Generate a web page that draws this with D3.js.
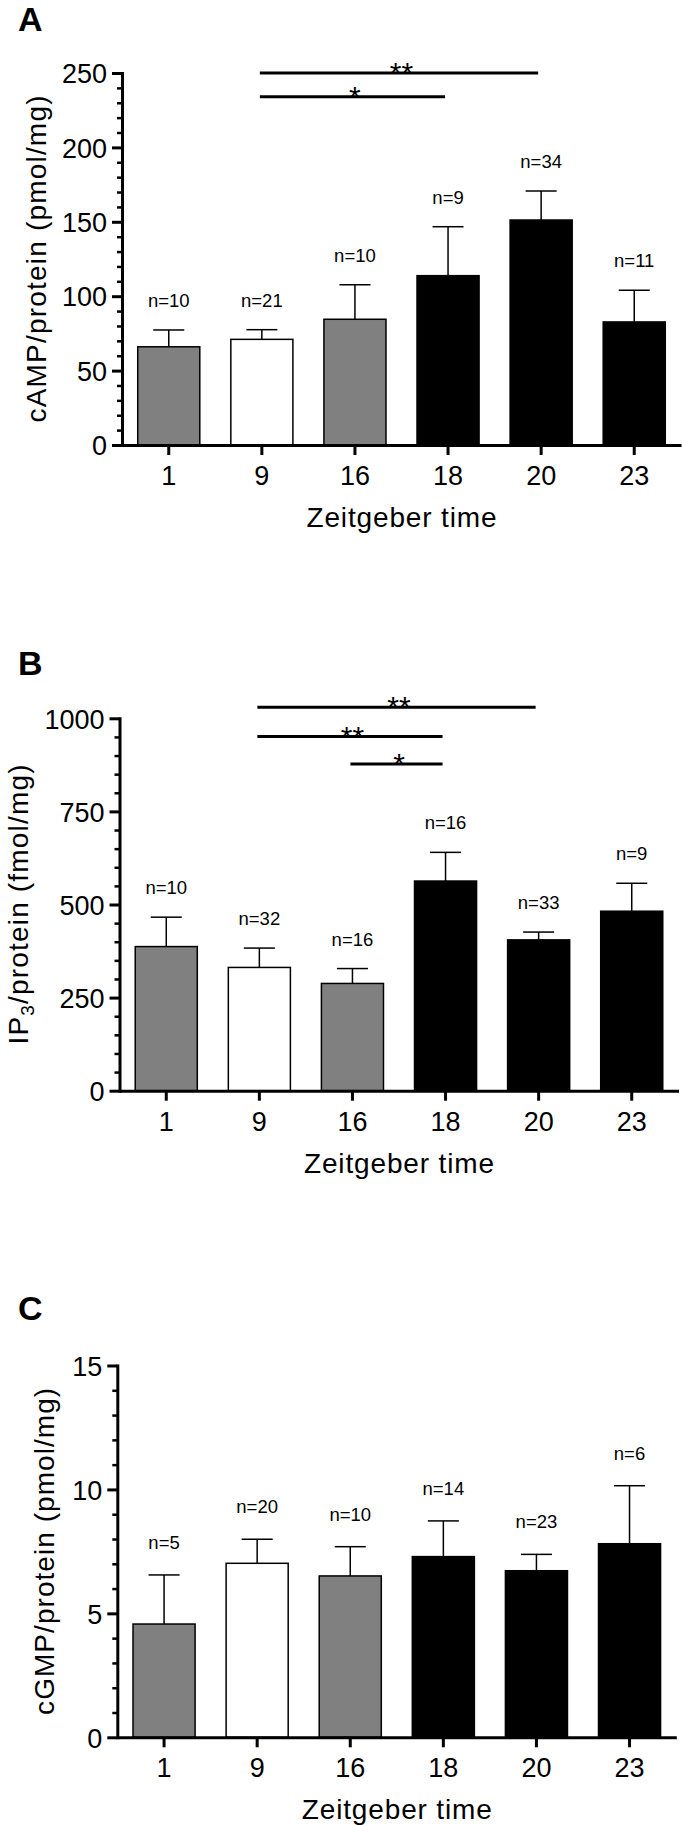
<!DOCTYPE html>
<html>
<head>
<meta charset="utf-8">
<script src="https://cdn.jsdelivr.net/npm/d3@7/dist/d3.min.js"></script>
<style>
  html, body { margin: 0; padding: 0; background: #fff; }
  svg { display: block; }
  text { font-family: "Liberation Sans", Arial, Helvetica, sans-serif; fill: #000; }
</style>
</head>
<body>
<svg id="chart" width="682" height="1825"></svg>
<script>
// ---------------- DATA ----------------
const categories = ["1", "9", "16", "18", "20", "23"];           // Zeitgeber time
const phase      = ["transition", "light", "transition", "dark", "dark", "dark"];

// Panel A: cAMP/protein (pmol/mg)
const campMean = [66, 71, 84.5, 113.8, 151.2, 82.7];
const campSem  = [11.3, 6.5, 23.2, 32.9, 19.5, 21.3];
const campN    = [10, 21, 10, 9, 34, 11];
const campTicks = [0, 50, 100, 150, 200, 250];
const campSig  = [
  { from: "9", to: "20", label: "**", level: 250 },
  { from: "9", to: "18", label: "*",  level: 234 }
];

// Panel B: IP3/protein (fmol/mg)
const ip3Mean = [387, 331, 288, 563, 405, 482];
const ip3Sem  = [79, 52, 40, 77, 21, 75];
const ip3N    = [10, 32, 16, 16, 33, 9];
const ip3Ticks = [0, 250, 500, 750, 1000];
const ip3Sig  = [
  { from: "9",  to: "20", label: "**", level: 1030 },
  { from: "9",  to: "18", label: "**", level: 951 },
  { from: "16", to: "18", label: "*",  level: 877 }
];

// Panel C: cGMP/protein (pmol/mg)
const cgmpMean = [4.57, 7.02, 6.51, 7.29, 6.72, 7.81];
const cgmpSem  = [1.98, 0.97, 1.18, 1.44, 0.66, 2.34];
const cgmpN    = [5, 20, 10, 14, 23, 6];
const cgmpTicks = [0, 5, 10, 15];
const cgmpSig  = [];

const xTitle = "Zeitgeber time";

// ---------------- STYLE / LAYOUT ----------------
const FONT = '"Liberation Sans", Arial, Helvetica, sans-serif';
const phaseFill = { transition: "#808080", light: "#ffffff", dark: "#000000" };

const svg = d3.select("#chart");

function drawPanel(cfg) {
  const g = svg.append("g");
  const axisLen = 559;
  const x = d3.scaleBand()
    .domain(categories)
    .range([cfg.axisX, cfg.axisX + axisLen])
    .paddingInner(1 / 3)
    .paddingOuter(0.169);
  const y = d3.scaleLinear().domain([0, cfg.max]).range([cfg.y0, cfg.yTop]);

  const rows = categories.map((c, i) => ({
    cat: c, mean: cfg.mean[i], sem: cfg.sem[i], n: cfg.n[i], phase: phase[i]
  }));

  // bars
  g.selectAll("rect.bar").data(rows).join("rect")
    .attr("class", "bar")
    .attr("x", d => x(d.cat))
    .attr("width", x.bandwidth())
    .attr("y", d => y(d.mean))
    .attr("height", d => y(0) - y(d.mean))
    .attr("fill", d => phaseFill[d.phase])
    .attr("stroke", "#000")
    .attr("stroke-width", 1.5);

  // error bars (upper only)
  const cx = d => x(d.cat) + x.bandwidth() / 2;
  const capW = x.bandwidth() / 2;
  g.selectAll("line.err").data(rows).join("line")
    .attr("class", "err")
    .attr("x1", cx).attr("x2", cx)
    .attr("y1", d => y(d.mean)).attr("y2", d => y(d.mean + d.sem))
    .attr("stroke", "#000").attr("stroke-width", 1.5);
  g.selectAll("line.cap").data(rows).join("line")
    .attr("class", "cap")
    .attr("x1", d => cx(d) - capW / 2).attr("x2", d => cx(d) + capW / 2)
    .attr("y1", d => y(d.mean + d.sem)).attr("y2", d => y(d.mean + d.sem))
    .attr("stroke", "#000").attr("stroke-width", 1.5);

  // n labels
  g.selectAll("text.n").data(rows).join("text")
    .attr("class", "n")
    .attr("x", cx)
    .attr("y", d => y(d.mean + d.sem) - cfg.nGap)
    .attr("text-anchor", "middle")
    .style("font-size", "18.5px")
    .text(d => "n=" + d.n);

  // minor y ticks
  const minorVals = d3.range(0, cfg.max + cfg.minor / 2, cfg.minor)
    .filter(v => !cfg.ticks.some(t => Math.abs(t - v) < 1e-9));
  const yMinor = g.append("g")
    .attr("transform", `translate(${cfg.axisX},0)`)
    .call(d3.axisLeft(y).tickValues(minorVals).tickSize(5).tickSizeOuter(0).tickFormat(""));
  yMinor.select(".domain").remove();
  yMinor.selectAll(".tick line").attr("stroke", "#000").attr("stroke-width", 2.5);

  // major y axis
  const yAx = g.append("g")
    .attr("transform", `translate(${cfg.axisX},0)`)
    .call(d3.axisLeft(y).tickValues(cfg.ticks).tickFormat(d3.format("d"))
      .tickSize(10).tickSizeOuter(0).tickPadding(5));
  yAx.attr("font-family", null).attr("font-size", null);
  yAx.select(".domain").attr("stroke", "#000").attr("stroke-width", 3).attr("stroke-linecap", "square");
  yAx.selectAll(".tick line").attr("stroke", "#000").attr("stroke-width", 3);
  yAx.selectAll(".tick text").style("font-size", "27px").style("font-family", FONT).attr("dy", "0.36em");

  // x axis
  const xAx = g.append("g")
    .attr("transform", `translate(0,${cfg.y0})`)
    .call(d3.axisBottom(x).tickSize(10).tickSizeOuter(0).tickPadding(11));
  xAx.attr("font-family", null).attr("font-size", null);
  xAx.select(".domain").attr("stroke", "#000").attr("stroke-width", 3);
  xAx.selectAll(".tick line").attr("stroke", "#000").attr("stroke-width", 3);
  xAx.selectAll(".tick text").style("font-size", "27px").style("font-family", FONT);

  // x title
  g.append("text")
    .attr("x", cfg.axisX + axisLen / 2)
    .attr("y", cfg.y0 + 82)
    .attr("text-anchor", "middle")
    .attr("textLength", 190).attr("lengthAdjust", "spacing")
    .style("font-size", "28px")
    .text(xTitle);

  // y title
  const yt = g.append("text")
    .attr("transform", `translate(${cfg.labelX},${(cfg.y0 + cfg.yTop) / 2}) rotate(-90)`)
    .attr("text-anchor", "middle")
    .attr("textLength", cfg.labelLen).attr("lengthAdjust", "spacing")
    .style("font-size", "28px");
  cfg.label(yt);

  // significance bars
  const sx = c => x(c) + x.bandwidth() / 2;
  g.selectAll("line.sig").data(cfg.sig).join("line")
    .attr("class", "sig")
    .attr("x1", d => sx(d.from) - 2).attr("x2", d => sx(d.to) - 3)
    .attr("y1", d => y(d.level)).attr("y2", d => y(d.level))
    .attr("stroke", "#000").attr("stroke-width", 3);
  g.selectAll("text.sig").data(cfg.sig).join("text")
    .attr("class", "sig")
    .attr("x", d => (sx(d.from) + sx(d.to)) / 2)
    .attr("y", d => y(d.level) + 10)
    .attr("text-anchor", "middle")
    .style("font-size", "30px")
    .text(d => d.label);

  // panel letter
  svg.append("text")
    .attr("x", 18).attr("y", cfg.letterY)
    .style("font-size", "34px").style("font-weight", "bold")
    .text(cfg.letter);
}

drawPanel({
  letter: "A", letterY: 31,
  mean: campMean, sem: campSem, n: campN, ticks: campTicks, sig: campSig,
  max: 250, minor: 10, axisX: 122, y0: 445, yTop: 73, nGap: 23,
  labelX: 46, labelLen: 327,
  label: t => t.text("cAMP/protein (pmol/mg)")
});

drawPanel({
  letter: "B", letterY: 675,
  mean: ip3Mean, sem: ip3Sem, n: ip3N, ticks: ip3Ticks, sig: ip3Sig,
  max: 1000, minor: 50, axisX: 119.5, y0: 1090.7, yTop: 718.3, nGap: 23,
  labelX: 28, labelLen: 280,
  label: t => {
    t.append("tspan").text("IP");
    t.append("tspan").attr("dy", 6).style("font-size", "19px").text("3");
    t.append("tspan").attr("dy", -6).text("/protein (fmol/mg)");
  }
});

drawPanel({
  letter: "C", letterY: 1320,
  mean: cgmpMean, sem: cgmpSem, n: cgmpN, ticks: cgmpTicks, sig: cgmpSig,
  max: 15, minor: 1, axisX: 117.3, y0: 1737.3, yTop: 1365.5, nGap: 26,
  labelX: 54, labelLen: 327,
  label: t => t.text("cGMP/protein (pmol/mg)")
});
</script>
</body>
</html>
